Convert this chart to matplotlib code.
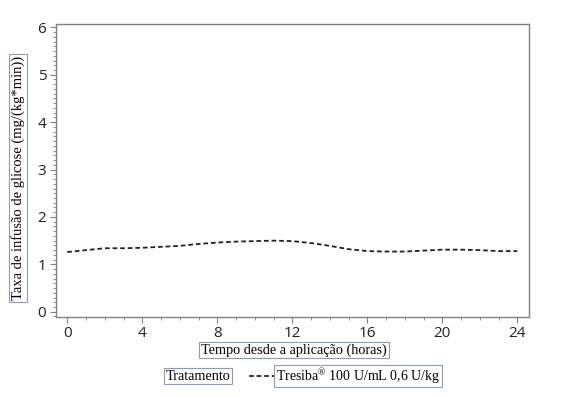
import numpy as np
import matplotlib
matplotlib.use("Agg")
import matplotlib.pyplot as plt
from matplotlib.ticker import MultipleLocator

# Data
hours = [0, 1, 2, 3, 4, 5, 6, 7, 8, 9, 10, 11, 12,
         13, 14, 15, 16, 17, 18, 19, 20, 21, 22, 23, 24]
gir = [1.26, 1.30, 1.34, 1.34, 1.35, 1.37, 1.39, 1.43, 1.46, 1.48, 1.49, 1.50, 1.49,
       1.45, 1.39, 1.32, 1.28, 1.27, 1.27, 1.29, 1.31, 1.31, 1.30, 1.28, 1.28]
xticks = [0, 4, 8, 12, 16, 20, 24]
yticks = [0, 1, 2, 3, 4, 5, 6]
series_label = "Tresiba$^{\u00ae}$ 100 U/mL 0,6 U/kg"

plt.rcParams["mathtext.fontset"] = "custom"
plt.rcParams["mathtext.rm"] = "Liberation Serif"
plt.rcParams["mathtext.it"] = "Liberation Serif"

serif = "Liberation Serif"
sans = "Open Sans"
edge = "#808080"
boxc = "#8a9bbf"

fig = plt.figure(figsize=(5.73, 3.97), dpi=100)
ax = fig.add_axes([56 / 573, 1 - 316.5 / 397, (528.5 - 56) / 573, (316.5 - 24) / 397])

line, = ax.plot(hours, gir, color="#222222", lw=1.3, ls=(0, (2.6, 1.6)))

ax.set_xlim(-0.6, 24.6)
ax.set_ylim(-0.1, 6.07)
ax.set_xticks(xticks)
ax.set_yticks(yticks)
ax.xaxis.set_minor_locator(MultipleLocator(1))
ax.yaxis.set_minor_locator(MultipleLocator(0.1))
for s in ax.spines.values():
    s.set_color(edge)
    s.set_linewidth(1.0)
ax.tick_params(which="major", length=4, width=0.8, color=edge, labelsize=11,
               direction="out", pad=3)
ax.tick_params(which="minor", length=2, width=0.6, color=edge, direction="out")
for lab in ax.get_xticklabels() + ax.get_yticklabels():
    lab.set_fontfamily(sans)
    lab.set_fontweight("medium")
    lab.set_color("#222222")

box = dict(boxstyle="square,pad=0.12", fc="white", ec=boxc, lw=0.8)

fig.text(18 / 573, 1 - 178 / 397, "Taxa de infusão de glicose (mg/(kg*min))",
         rotation=90, ha="center", va="center", family=serif, fontsize=10.5, bbox=box)
fig.text(294 / 573, 1 - 350 / 397, "Tempo desde a aplicação (horas)",
         ha="center", va="center", family=serif, fontsize=10.3, bbox=box)
fig.text(198 / 573, 1 - 376 / 397, "Tratamento",
         ha="center", va="center", family=serif, fontsize=10.3, bbox=box)

leg = fig.legend([line], [series_label], loc="center left",
                 bbox_to_anchor=(242 / 573, 1 - 376 / 397), frameon=False,
                 handlelength=1.8, handletextpad=0.15, borderpad=0,
                 prop={"family": serif, "size": 10})
for t in leg.get_texts():
    t.set_bbox(box)

fig.savefig("out.png", dpi=100)
